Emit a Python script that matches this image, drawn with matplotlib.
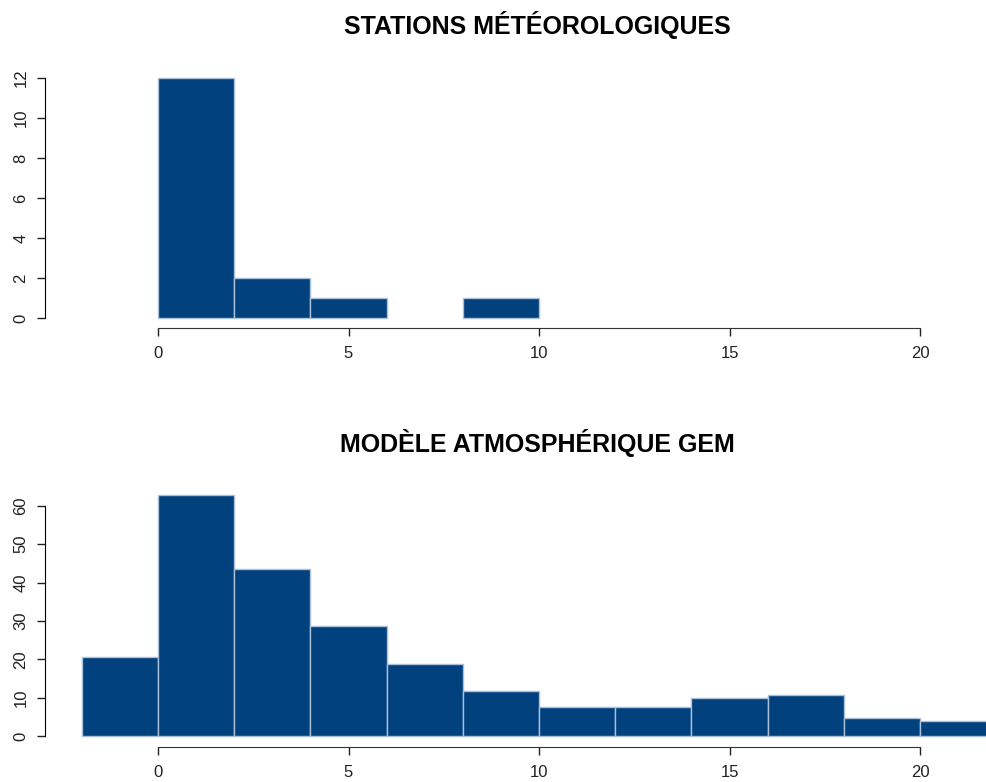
import matplotlib
matplotlib.use("Agg")
import matplotlib.pyplot as plt
import numpy as np

plt.rcParams["font.family"] = ["Liberation Sans", "DejaVu Sans"]

# Station histogram (bins of width 2)
stations_edges = np.array([0, 2, 4, 6, 8, 10])
stations_counts = np.array([12, 2, 1, 0, 1])

# GEM model histogram (bins of width 2)
gem_edges = np.array([-2, 0, 2, 4, 6, 8, 10, 12, 14, 16, 18, 20, 22])
gem_counts = np.array([20.5, 62.8, 43.5, 28.7, 18.8, 11.7, 7.6, 7.6, 9.9, 10.7, 4.7, 3.9])

titles = ["STATIONS MÉTÉOROLOGIQUES", "MODÈLE ATMOSPHÉRIQUE GEM"]
xticks = [0, 5, 10, 15, 20]

BAR = "#01417E"
EDGE = "#A9C0DA"

W, H = 987, 782
fig = plt.figure(figsize=(W / 100, H / 100), dpi=100)

def px_axes(left, top, right, bottom):
    return fig.add_axes([left / W, 1 - bottom / H, (right - left) / W, (bottom - top) / H])

# x range chosen so that 0 -> px 158 and 20 -> px 920, axes from px 45 to 987
xlo = (45 - 158) / 38.1
xhi = (987 - 158) / 38.1

ax1 = px_axes(45, 76, 987, 328)
ax2 = px_axes(45, 490, 987, 747)

def hist(ax, edges, counts, ylim, yticks, title, title_y):
    left = edges[:-1]
    widths = np.diff(edges)
    keep = counts > 0
    ax.bar(left[keep], counts[keep], width=widths[keep], align="edge",
           color=BAR, edgecolor=EDGE, linewidth=1.0, clip_on=True)
    ax.set_xlim(xlo, xhi)
    ax.set_ylim(*ylim)
    for s in ["top", "right"]:
        ax.spines[s].set_visible(False)
    ax.spines["bottom"].set_bounds(0, 20)
    ax.spines["left"].set_bounds(yticks[0], yticks[-1])
    ax.spines["bottom"].set_color("#333333")
    ax.set_xticks(xticks)
    ax.set_yticks(yticks)
    ax.set_yticklabels([str(t) for t in yticks], rotation=90, va="center")
    ax.tick_params(axis="both", direction="out", length=6, width=1,
                   labelsize=12, colors="#222222")
    ax.tick_params(axis="x", pad=7)
    ax.tick_params(axis="y", pad=6)
    fig.text(537 / W, 1 - title_y / H, title, ha="center", va="center",
             fontsize=18, fontweight="semibold", color="black")

hist(ax1, stations_edges, stations_counts, (-0.5, 12.1), [0, 2, 4, 6, 8, 10, 12],
     titles[0], 25)
hist(ax2, gem_edges, gem_counts, (-2.85, 64.1), [0, 10, 20, 30, 40, 50, 60],
     titles[1], 443)

fig.savefig("out.png", dpi=100)
